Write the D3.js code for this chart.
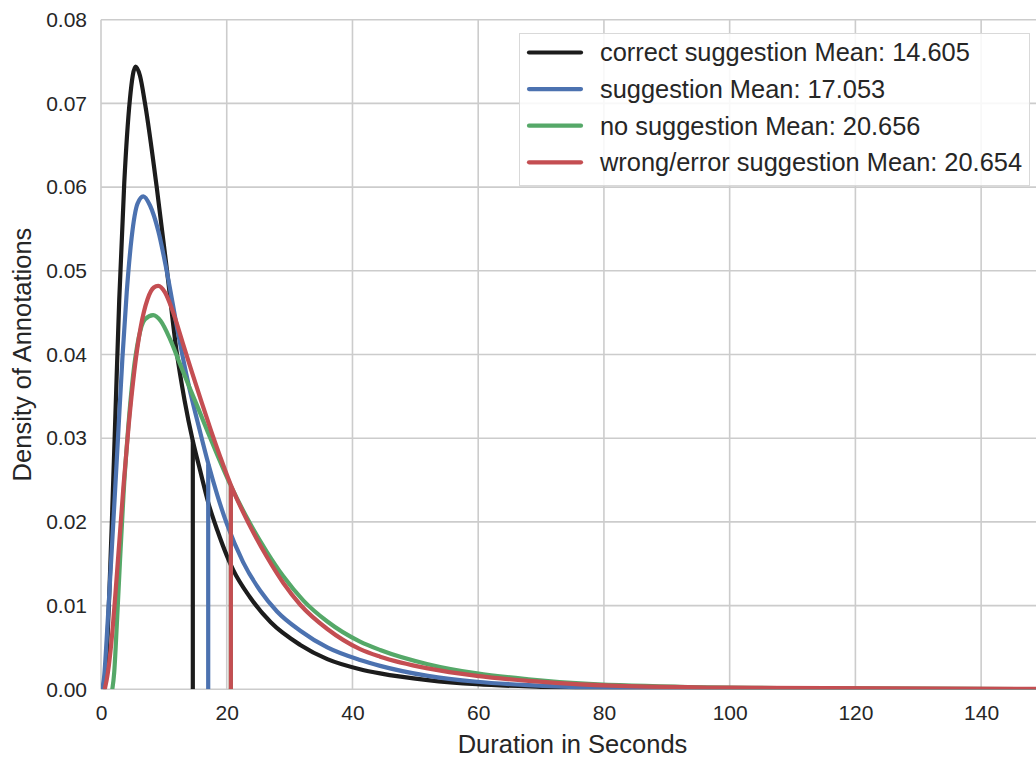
<!DOCTYPE html>
<html>
<head>
<meta charset="utf-8">
<script src="https://cdn.jsdelivr.net/npm/d3@7"></script>
<style>
  body { margin: 0; background: #fff; }
  svg { display: block; font-family: "Liberation Sans", Arial, sans-serif; }
  .tick text { fill: #262626; }
</style>
</head>
<body>
<div id="chart"></div>
<script>
// series names and legend labels
var seriesNames = ["correct", "suggestion", "none", "wrong"];
var seriesLabels = [
    "correct suggestion Mean: 14.605",
    "suggestion Mean: 17.053",
    "no suggestion Mean: 20.656",
    "wrong/error suggestion Mean: 20.654"
];
var seriesColors = ["#1c1c1c", "#4c72b0", "#55a868", "#c44e52"];

// mean of each series, and the density read at that mean
var means = [14.605, 17.053, 20.656, 20.654];
var meanHeights = [0.0297, 0.0269, 0.0243, 0.0243];

// density curves: [seconds, density]
var correctCurve = [
    [0.4, 0], [0.7, 0.0015], [1.0, 0.0055], [1.3, 0.011], [1.75, 0.0205], [2.3, 0.033],
    [2.9, 0.0465], [3.7, 0.0605], [4.6, 0.0705], [5.5, 0.0744], [6.2, 0.0733], [7.0, 0.07],
    [8.86, 0.06], [10.5, 0.05], [12.0, 0.0405], [13.3, 0.0345], [14.6, 0.0297],
    [15.75, 0.0262], [17.1, 0.0222], [18.5, 0.019], [20, 0.016], [21, 0.0143],
    [23.7, 0.011], [27, 0.008], [31.7, 0.0053], [36, 0.0036], [41.2, 0.0024],
    [44.4, 0.0019], [52, 0.0011], [59.8, 0.0006], [70, 0.0003], [85, 0.0001],
    [110, 0.00002], [150, 0]
];
var suggestionCurve = [
    [0.15, 0], [0.5, 0.0015], [0.9, 0.006], [1.4, 0.0125], [2.0, 0.0205], [2.7, 0.03],
    [3.4, 0.0395], [4.1, 0.0475], [4.88, 0.054], [5.8, 0.058], [6.73, 0.0589],
    [7.8, 0.0578], [9.1, 0.0548], [10.45, 0.05], [12.2, 0.0428], [13.9, 0.0365],
    [15.75, 0.0308], [17.05, 0.027], [18.5, 0.0232], [20, 0.0198], [22.6, 0.0152],
    [25.3, 0.0118], [28, 0.0093], [31.7, 0.007], [36, 0.005], [41.2, 0.0035],
    [44.4, 0.0028], [52, 0.0016], [59.8, 0.0009], [68, 0.0005], [76.2, 0.00025],
    [100, 0.00005], [150, 0]
];
var noneCurve = [
    [1.8, 0], [2.1, 0.002], [2.5, 0.0075], [3.0, 0.015], [3.6, 0.0235], [4.3, 0.031],
    [5.1, 0.0375], [6.0, 0.042], [7.0, 0.0442], [8.3, 0.0447], [9.5, 0.044],
    [11, 0.0418], [12.5, 0.039], [14, 0.0362], [15.5, 0.0335], [17, 0.0307],
    [18.5, 0.028], [20.66, 0.0243], [23.5, 0.0201], [26.4, 0.0164], [29, 0.0135],
    [32.2, 0.0106], [36, 0.0081], [41.2, 0.0057], [44.4, 0.0047], [52, 0.003],
    [59.8, 0.0019], [68, 0.0012], [76.2, 0.0007], [92.1, 0.0003], [120, 0.0001],
    [150, 0.00003]
];
var wrongCurve = [
    [0.6, 0], [1.1, 0.002], [1.7, 0.006], [2.3, 0.0115], [2.9, 0.0175], [3.6, 0.0245],
    [4.4, 0.0315], [5.3, 0.038], [6.3, 0.0432], [7.4, 0.0466], [8.4, 0.048],
    [9.1, 0.0482], [10.2, 0.0474], [11.4, 0.0452], [13, 0.0414], [14.5, 0.0378],
    [16, 0.0343], [17.5, 0.0309], [19, 0.0277], [20.65, 0.0244], [23.5, 0.0198],
    [26.4, 0.0158], [29, 0.0127], [31.7, 0.0101], [36, 0.0072], [41.2, 0.0048],
    [44.4, 0.0039], [52, 0.0025], [59.8, 0.0016], [68, 0.001], [76.2, 0.0006],
    [100, 0.0002], [150, 0.00005]
];
var curves = [correctCurve, suggestionCurve, noneCurve, wrongCurve];

var xTicks = [0, 20, 40, 60, 80, 100, 120, 140];
var yTicks = [0, 0.01, 0.02, 0.03, 0.04, 0.05, 0.06, 0.07, 0.08];

var width = 1036, height = 758;
var margin = { top: 19.7, right: -8, bottom: 68.7, left: 101 };
var grid = "#cccccc";
var lineWidth = 4.2;

var svg = d3.select("#chart").append("svg")
    .attr("width", width)
    .attr("height", height);

var x = d3.scaleLinear().domain([0, 150]).range([margin.left, width - margin.right]);
var y = d3.scaleLinear().domain([0, 0.08]).range([height - margin.bottom, margin.top]);

// grid lines
svg.append("g").selectAll("line.vg")
    .data(xTicks).enter().append("line")
    .attr("x1", function (d) { return x(d); })
    .attr("x2", function (d) { return x(d); })
    .attr("y1", y(0)).attr("y2", y(0.08))
    .attr("stroke", grid).attr("stroke-width", 1.6);

svg.append("g").selectAll("line.hg")
    .data(yTicks).enter().append("line")
    .attr("x1", x(0)).attr("x2", x(150))
    .attr("y1", function (d) { return y(d); })
    .attr("y2", function (d) { return y(d); })
    .attr("stroke", grid).attr("stroke-width", 1.6);

// axes (labels only, no tick marks)
var xAxis = svg.append("g")
    .attr("transform", "translate(0," + y(0) + ")")
    .call(d3.axisBottom(x).tickValues(xTicks).tickSize(0).tickPadding(16).tickFormat(d3.format("d")));
xAxis.select(".domain").remove();
xAxis.selectAll("text").style("font-size", "21px");

var yAxis = svg.append("g")
    .attr("transform", "translate(" + x(0) + ",0)")
    .call(d3.axisLeft(y).tickValues(yTicks).tickSize(0).tickPadding(14).tickFormat(d3.format(".2f")));
yAxis.select(".domain").remove();
yAxis.selectAll("text").style("font-size", "21px");

// clip the curves to the plot area
svg.append("clipPath").attr("id", "plotclip")
    .append("rect")
    .attr("x", x(0)).attr("y", y(0.08) - 5)
    .attr("width", x(150) - x(0)).attr("height", y(0) - y(0.08) + 5);

var line = d3.line()
    .x(function (d) { return x(d[0]); })
    .y(function (d) { return y(d[1]); })
    .curve(d3.curveMonotoneX);

var plot = svg.append("g").attr("clip-path", "url(#plotclip)");

curves.forEach(function (c, i) {
    plot.append("path")
        .datum(c)
        .attr("class", "curve " + seriesNames[i])
        .attr("fill", "none")
        .attr("stroke", seriesColors[i])
        .attr("stroke-width", lineWidth)
        .attr("stroke-linejoin", "round")
        .attr("d", line);

    plot.append("line")
        .attr("class", "mean " + seriesNames[i])
        .attr("x1", x(means[i])).attr("x2", x(means[i]))
        .attr("y1", y(0)).attr("y2", y(meanHeights[i]))
        .attr("stroke", seriesColors[i])
        .attr("stroke-width", lineWidth);
});

// axis titles
svg.append("text")
    .attr("x", (x(0) + x(150)) / 2)
    .attr("y", 753)
    .attr("text-anchor", "middle")
    .attr("fill", "#262626")
    .style("font-size", "25.5px")
    .text("Duration in Seconds");

svg.append("text")
    .attr("transform", "translate(31," + ((y(0) + y(0.08)) / 2) + ") rotate(-90)")
    .attr("text-anchor", "middle")
    .attr("fill", "#262626")
    .style("font-size", "25.5px")
    .text("Density of Annotations");

// legend
var legend = svg.append("g").attr("class", "legend");
legend.append("rect")
    .attr("x", 519.5).attr("y", 33.5)
    .attr("width", 510).attr("height", 152)
    .attr("fill", "#fff").attr("fill-opacity", 0.85)
    .attr("stroke", "#d9d9d9").attr("stroke-width", 1);

var rows = legend.selectAll("g.row")
    .data(seriesLabels).enter().append("g")
    .attr("class", "row")
    .attr("transform", function (d, i) { return "translate(0," + (52.5 + i * 36.6) + ")"; });

rows.append("line")
    .attr("x1", 529).attr("x2", 581)
    .attr("stroke", function (d, i) { return seriesColors[i]; })
    .attr("stroke-width", lineWidth)
    .attr("stroke-linecap", "round");

rows.append("text")
    .attr("x", 600)
    .attr("dy", "0.35em")
    .attr("fill", "#262626")
    .style("font-size", "25.4px")
    .text(function (d) { return d; });
</script>
</body>
</html>
